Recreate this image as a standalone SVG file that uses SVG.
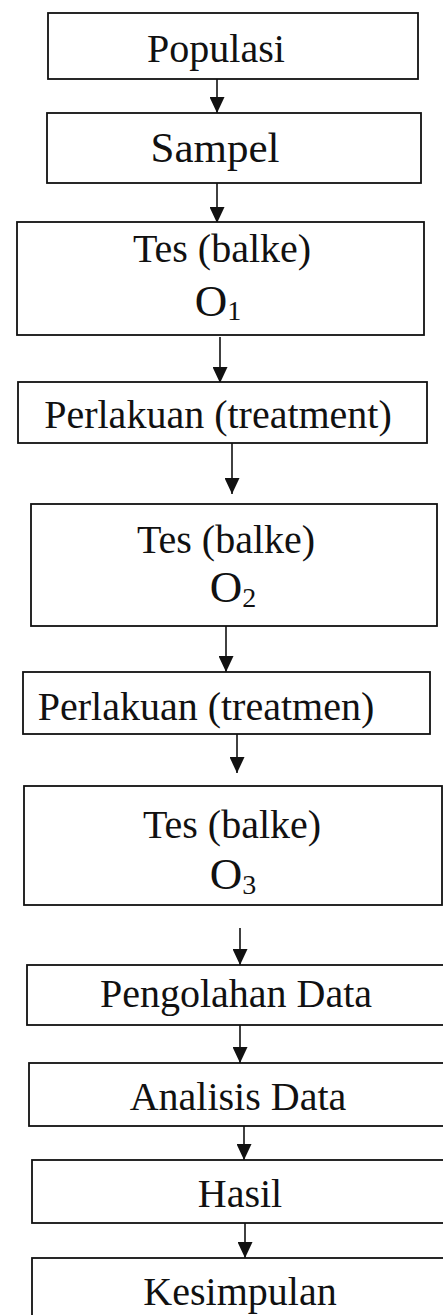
<svg xmlns="http://www.w3.org/2000/svg" width="443" height="1315" viewBox="0 0 443 1315">
<style>
.box{fill:#fff;stroke:#111;stroke-width:1.8}
.t{font-family:"Liberation Serif","Times New Roman",serif;font-size:40px;fill:#111;text-anchor:middle}
.o{font-size:45px}
.sub{font-size:28px}
.c{stroke:#111;stroke-width:1.6;fill:none}
</style>
<defs>
<marker id="ad" markerUnits="userSpaceOnUse" markerWidth="16" markerHeight="15" viewBox="0 0 16 15" refX="16" refY="7.5" orient="auto">
<path d="M0,0 L16,7.5 L0,15 Z" fill="#111"/>
</marker>
</defs>
<rect width="443" height="1315" fill="#fff"/>
<g id="connectors">
<line class="c" x1="217" y1="79" x2="217" y2="113" marker-end="url(#ad)"/>
<line class="c" x1="217" y1="183" x2="217" y2="223" marker-end="url(#ad)"/>
<line class="c" x1="220" y1="337" x2="220" y2="383" marker-end="url(#ad)"/>
<line class="c" x1="232" y1="443" x2="232" y2="494" marker-end="url(#ad)"/>
<line class="c" x1="226" y1="626" x2="226" y2="672" marker-end="url(#ad)"/>
<line class="c" x1="237" y1="734" x2="237" y2="773" marker-end="url(#ad)"/>
<line class="c" x1="240" y1="928" x2="240" y2="965" marker-end="url(#ad)"/>
<line class="c" x1="240" y1="1025" x2="240" y2="1063" marker-end="url(#ad)"/>
<line class="c" x1="244" y1="1126" x2="244" y2="1160" marker-end="url(#ad)"/>
<line class="c" x1="245" y1="1223" x2="245" y2="1258" marker-end="url(#ad)"/>
</g>
<g id="populasi"><rect class="box" x="48" y="13" width="370" height="66"/><text class="t" x="216" y="62">Populasi</text></g>
<g id="sampel"><rect class="box" x="47" y="113" width="374" height="70"/><text class="t" x="215" y="162" style="font-size:43px">Sampel</text></g>
<g id="tes1"><rect class="box" x="17" y="222" width="407" height="113"/><text class="t" x="222" y="262">Tes (balke)</text><text class="t o" x="218" y="316">O<tspan class="sub" dy="4">1</tspan></text></g>
<g id="perlakuan1"><rect class="box" x="18" y="382" width="409" height="61"/><text class="t" x="218" y="428">Perlakuan (treatment)</text></g>
<g id="tes2"><rect class="box" x="31" y="504" width="406" height="122"/><text class="t" x="226" y="553">Tes (balke)</text><text class="t o" x="233" y="602">O<tspan class="sub" dy="5">2</tspan></text></g>
<g id="perlakuan2"><rect class="box" x="23" y="672" width="407" height="62"/><text class="t" x="206" y="720">Perlakuan (treatmen)</text></g>
<g id="tes3"><rect class="box" x="24" y="786" width="418" height="119"/><text class="t" x="232" y="838">Tes (balke)</text><text class="t o" x="233" y="889">O<tspan class="sub" dy="5">3</tspan></text></g>
<g id="pengolahan"><rect class="box" x="27" y="965" width="430" height="60"/><text class="t" x="236" y="1007">Pengolahan Data</text></g>
<g id="analisis"><rect class="box" x="29" y="1063" width="430" height="63"/><text class="t" x="238" y="1110">Analisis Data</text></g>
<g id="hasil"><rect class="box" x="32" y="1160" width="430" height="63"/><text class="t" x="240" y="1207">Hasil</text></g>
<g id="kesimpulan"><rect class="box" x="32" y="1258" width="430" height="80"/><text class="t" x="240" y="1305">Kesimpulan</text></g>
</svg>
